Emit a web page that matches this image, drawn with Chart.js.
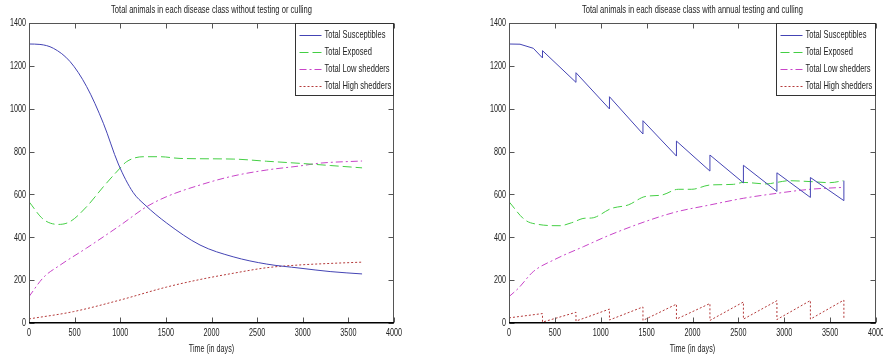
<!DOCTYPE html>
<html>
<head>
<meta charset="utf-8">
<title>Total animals in each disease class</title>
<script src="https://cdn.jsdelivr.net/npm/chart.js@4.4.1/dist/chart.umd.min.js"></script>
<style>
  html, body { margin: 0; padding: 0; background: #fff; }
  #wrap { position: relative; width: 883px; height: 360px; overflow: hidden; }
  canvas { position: absolute; top: 0; }
  #noCull { left: 0; }
  #withCull { left: 440px; }
</style>
</head>
<body>
<div id="wrap">
  <canvas id="noCull" width="440" height="360"></canvas>
  <canvas id="withCull" width="443" height="360"></canvas>
</div>
<script>
// ---- series labels and tick settings ----
const seriesNames = ['Total Susceptibles', 'Total Exposed', 'Total Low shedders', 'Total High shedders'];
const xAxisTitle = 'Time (in days)';
const xTickStep = 500;   // days
const yTickStep = 200;   // animals
const xMax = 4000;
const yMax = 1400;

// ---- model run without testing or culling (time in days, animals) ----
const daysSusNC  = [0, 120, 267, 450, 632, 815, 979, 1140, 1271, 1510, 1874, 2237, 2605, 2970, 3300, 3650];
const susNC      = [1302, 1300, 1282, 1220, 1103, 932, 742, 610, 551, 466, 364, 309, 275, 256, 240, 229];

const daysExpNC  = [0, 157, 322, 450, 632, 815, 979, 1070, 1253, 1436, 1655, 2237, 2600, 2970, 3300, 3650];
const expNC      = [566, 484, 460, 473, 543, 636, 714, 753, 776, 776, 768, 765, 755, 745, 735, 724];

const daysLowNC  = [0, 157, 340, 632, 997, 1290, 1510, 1874, 2237, 2605, 2970, 3190, 3650];
const lowNC      = [123, 212, 270, 350, 455, 543, 590, 644, 686, 714, 733, 746, 756];

const daysHighNC = [0, 486, 997, 1510, 1874, 2237, 2605, 2970, 3300, 3650];
const highNC     = [19, 53, 107, 168, 203, 232, 258, 271, 278, 284];

// ---- model run with annual testing and culling (repeated day = jump at a test) ----
const daysSusCull  = [0, 120, 265, 365, 365, 730, 730, 1095, 1095, 1460, 1460, 1825, 1825, 2190, 2190, 2555, 2555, 2920, 2920, 3285, 3285, 3650, 3650];
const susCull      = [1302, 1301, 1282, 1237, 1271, 1123, 1168, 999, 1056, 882, 944, 779, 849, 709, 784, 654, 736, 614, 701, 586, 679, 571, 664];

const daysExpCull  = [0, 174, 320, 556, 683, 828, 901, 1119, 1300, 1482, 1664, 1845, 1991, 2191, 2445, 2554, 2809, 2917, 3050, 3281, 3499, 3644];
const expCull      = [566, 481, 460, 454, 468, 489, 490, 535, 551, 590, 597, 624, 624, 644, 647, 656, 649, 656, 664, 660, 655, 664];

const daysLowCull  = [0, 102, 265, 501, 810, 1101, 1537, 1828, 2191, 2554, 2917, 3281, 3644];
const lowCull      = [123, 162, 240, 297, 356, 411, 481, 519, 551, 582, 605, 624, 633];

const daysHighCull = [0, 365, 365, 730, 730, 1095, 1095, 1460, 1460, 1825, 1825, 2190, 2190, 2555, 2555, 2920, 2920, 3285, 3285, 3650, 3650];
const highCull     = [24, 44, 4, 50, 9, 65, 14, 75, 12, 88, 18, 91, 12, 98, 18, 104, 16, 105, 18, 107, 18];

// ---- look ----
const FONT = "'Liberation Sans', Arial, sans-serif";
const SQUEEZE = 0.72;          // tall, narrow lettering
const TEXT_COLOR = '#222';
const seriesStyles = [
  { color: '#4444b4', dash: [] },           // solid
  { color: '#44cf44', dash: [9, 4] },       // dashed
  { color: '#c844c8', dash: [7, 3, 2, 3] }, // dash-dot
  { color: '#b43a3a', dash: [2, 2] }        // dotted
];

function points(days, vals) {
  return days.map((d, i) => ({ x: d, y: vals[i] }));
}

function makeDataset(i, days, vals, smooth) {
  const s = seriesStyles[i];
  return {
    label: seriesNames[i],
    data: points(days, vals),
    borderColor: s.color,
    borderDash: s.dash,
    borderWidth: 1,
    pointRadius: 0,
    fill: false,
    cubicInterpolationMode: smooth ? 'monotone' : 'default',
    tension: 0
  };
}

function squeezedText(ctx, text, x, y, align) {
  ctx.save();
  ctx.translate(x, y);
  ctx.scale(SQUEEZE, 1);
  ctx.textAlign = align;
  ctx.textBaseline = 'middle';
  ctx.fillText(text, 0, 0);
  ctx.restore();
}

// box around the axes, inward ticks, tick labels, boxed legend and titles
const matlabFrame = {
  id: 'matlabFrame',
  afterDraw(chart, args, opts) {
    const { ctx, chartArea: a } = chart;
    const xs = chart.scales.x, ys = chart.scales.y;
    const L = Math.round(a.left) + 0.5, R = Math.round(a.right) - 0.5;
    const T = Math.round(a.top) + 0.5, B = Math.round(a.bottom) - 0.5;
    ctx.save();

    // inward tick marks on all four sides
    ctx.strokeStyle = '#555';
    ctx.lineWidth = 1;
    ctx.setLineDash([]);
    ctx.beginPath();
    xs.ticks.forEach(t => {
      const px = Math.round(xs.getPixelForValue(t.value)) + 0.5;
      ctx.moveTo(px, B); ctx.lineTo(px, B - 5);
      ctx.moveTo(px, T); ctx.lineTo(px, T + 5);
    });
    ys.ticks.forEach(t => {
      const py = Math.round(ys.getPixelForValue(t.value)) + 0.5;
      ctx.moveTo(L, py); ctx.lineTo(L + 5, py);
      ctx.moveTo(R, py); ctx.lineTo(R - 5, py);
    });
    ctx.stroke();

    // axes box
    ctx.strokeRect(L, T, R - L, B - T);
    ctx.strokeStyle = '#000';
    ctx.lineWidth = 1.5;
    ctx.beginPath();
    ctx.moveTo(L - 0.5, B + 0.25); ctx.lineTo(R + 0.5, B + 0.25);
    ctx.stroke();

    // tick labels, taken from the scales' own ticks
    ctx.fillStyle = TEXT_COLOR;
    ctx.font = '10px ' + FONT;
    xs.ticks.forEach(t => {
      squeezedText(ctx, String(t.value), xs.getPixelForValue(t.value), a.bottom + 10, 'center');
    });
    ys.ticks.forEach(t => {
      squeezedText(ctx, String(t.value), a.left - 3, ys.getPixelForValue(t.value) + 0.5, 'right');
    });
    squeezedText(ctx, xAxisTitle, (a.left + a.right) / 2, a.bottom + 26, 'center');

    // legend in the top right corner
    const lw = opts.legendWidth, lh = 72;
    const lx = R - lw, ly = T;
    ctx.fillStyle = '#fff';
    ctx.fillRect(lx, ly, lw, lh);
    ctx.strokeStyle = '#333';
    ctx.lineWidth = 1;
    ctx.strokeRect(lx, ly, lw, lh);
    ctx.font = '10.5px ' + FONT;
    chart.data.datasets.forEach((ds, i) => {
      const ry = Math.round(ly + 11 + i * 17) + 0.5;
      ctx.strokeStyle = ds.borderColor;
      ctx.setLineDash(ds.borderDash);
      ctx.beginPath();
      ctx.moveTo(lx + 4, ry); ctx.lineTo(lx + 26, ry);
      ctx.stroke();
      ctx.setLineDash([]);
      ctx.fillStyle = TEXT_COLOR;
      squeezedText(ctx, ds.label, lx + 29, ry, 'left');
    });

    // title over the axes
    ctx.fillStyle = TEXT_COLOR;
    ctx.font = '10.5px ' + FONT;
    squeezedText(ctx, opts.title, (a.left + a.right) / 2, 10.5, 'center');
    ctx.restore();
  }
};

function makeOptions(title, padLeft, padRight, legendWidth) {
  return {
    responsive: false,
    animation: false,
    devicePixelRatio: 1,
    layout: { padding: { left: padLeft, right: padRight, top: 23, bottom: 0 } },
    plugins: {
      legend: { display: false },
      title: { display: false },
      tooltip: { enabled: false },
      matlabFrame: { title: title, legendWidth: legendWidth }
    },
    scales: {
      x: {
        type: 'linear', min: 0, max: xMax,
        grid: { display: false, drawTicks: false },
        border: { display: false },
        ticks: { stepSize: xTickStep, display: false, autoSkip: false },
        afterFit(s) { s.height = 37; s.paddingLeft = 0; s.paddingRight = 0; }
      },
      y: {
        type: 'linear', min: 0, max: yMax,
        grid: { display: false, drawTicks: false },
        border: { display: false },
        ticks: { stepSize: yTickStep, display: false },
        afterFit(s) { s.width = 29; s.paddingTop = 0; s.paddingBottom = 0; }
      }
    }
  };
}

new Chart(document.getElementById('noCull'), {
  type: 'line',
  data: {
    datasets: [
      makeDataset(0, daysSusNC, susNC, true),
      makeDataset(1, daysExpNC, expNC, true),
      makeDataset(2, daysLowNC, lowNC, true),
      makeDataset(3, daysHighNC, highNC, true)
    ]
  },
  options: makeOptions('Total animals in each disease class without testing or culling', 0, 46, 98),
  plugins: [matlabFrame]
});

new Chart(document.getElementById('withCull'), {
  type: 'line',
  data: {
    datasets: [
      makeDataset(0, daysSusCull, susCull, false),
      makeDataset(1, daysExpCull, expCull, true),
      makeDataset(2, daysLowCull, lowCull, true),
      makeDataset(3, daysHighCull, highCull, false)
    ]
  },
  options: makeOptions('Total animals in each disease class with annual testing and culling', 40, 7, 99),
  plugins: [matlabFrame]
});
</script>
</body>
</html>
